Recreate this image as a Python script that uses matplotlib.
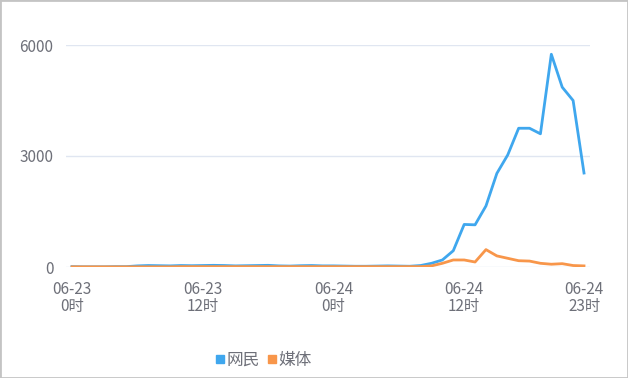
import matplotlib.pyplot as plt
from matplotlib.patches import Rectangle
from matplotlib.lines import Line2D

plt.rcParams['font.family'] = ['Noto Sans CJK SC', 'DejaVu Sans']

hours = list(range(48))
tick_pos = [0, 12, 24, 36, 47]
tick_labels = ['06-23\n0时', '06-23\n12时', '06-24\n0时', '06-24\n12时', '06-24\n23时']

# 网民 (netizens), hourly
netizen = [10, 5, 5, 5, 10, 10, 30, 40, 35, 30, 40, 35, 40, 45, 40, 30, 35, 40, 45, 30, 25,
           35, 40, 30, 30, 25, 20, 20, 25, 30, 25, 20, 40, 100, 190, 440, 1150, 1140,
           1650, 2530, 3030, 3750, 3750, 3600, 5750, 4860, 4500, 2540]
# 媒体 (media), hourly
media = [5, 5, 5, 5, 5, 5, 5, 5, 5, 5, 10, 10, 10, 10, 10, 10, 10, 10, 10, 10, 10,
         10, 10, 10, 10, 10, 10, 10, 10, 10, 10, 10, 10, 30, 100, 190, 190, 135,
         470, 300, 235, 170, 160, 100, 75, 90, 40, 30]

blue = '#3fa7ee'
orange = '#f8964a'
label_color = '#6e7079'

fig = plt.figure(figsize=(6.28, 3.78), dpi=100)
ax = fig.add_axes([66 / 628, 111 / 378, (590 - 66) / 628, 222 / 378])

ax.plot(hours, netizen, color=blue, linewidth=2, label='网民')
ax.plot(hours, media, color=orange, linewidth=2, label='媒体')

ax.set_xlim(-0.55, 47.55)
ax.set_ylim(0, 6000)
ax.set_yticks([0, 3000, 6000])
ax.set_xticks(tick_pos)
ax.set_xticklabels(tick_labels, linespacing=1.0)
ax.tick_params(axis='both', length=0, colors=label_color, labelsize=11)
ax.tick_params(axis='y', pad=9)
ax.tick_params(axis='x', pad=10)
ax.grid(axis='y', color='#e0e6f1', linewidth=1)
ax.set_axisbelow(True)
for s in ax.spines.values():
    s.set_visible(False)

labels = ['网民', '媒体']
sq = [Line2D([], [], marker='s', linestyle='', color=blue, markersize=5.5),
      Line2D([], [], marker='s', linestyle='', color=orange, markersize=5.5)]
leg = fig.legend(sq, labels, loc='center', bbox_to_anchor=(0.418, 18 / 378), ncol=2,
                 frameon=False, fontsize=12, handletextpad=0.0, columnspacing=0.3,
                 handlelength=0.8)
for t in leg.get_texts():
    t.set_color(label_color)

fig.patches.append(Rectangle((0, 0), 1, 1, transform=fig.transFigure, fill=False,
                             edgecolor='#c4c4c4', linewidth=2))

fig.savefig('out.png', dpi=100)
